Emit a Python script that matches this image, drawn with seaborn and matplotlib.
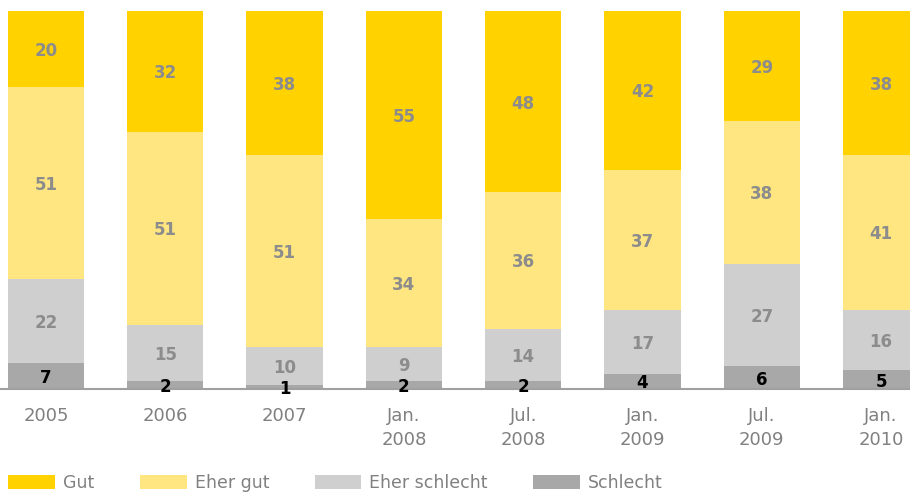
import numpy as np
import pandas as pd
import matplotlib
matplotlib.use("Agg")
import matplotlib.pyplot as plt
import seaborn as sns
from matplotlib.patches import Patch
from matplotlib.transforms import ScaledTranslation

categories = ["2005", "2006", "2007", "Jan.\n2008", "Jul.\n2008", "Jan.\n2009", "Jul.\n2009", "Jan.\n2010"]
schlecht = [7, 2, 1, 2, 2, 4, 6, 5]
eher_schlecht = [22, 15, 10, 9, 14, 17, 27, 16]
eher_gut = [51, 51, 51, 34, 36, 37, 38, 41]
gut = [20, 32, 38, 55, 48, 42, 29, 38]

series_names = ["Gut", "Eher gut", "Eher schlecht", "Schlecht"]
colors = {"Gut": "#FFD200", "Eher gut": "#FFE680", "Eher schlecht": "#CFCFCF", "Schlecht": "#A8A8A8"}

sns.set_theme(style="white")
plt.rcParams["font.family"] = ["DejaVu Sans"]

fig = plt.figure(figsize=(9.10, 4.95), dpi=100)
ax = fig.add_axes([0.0, 1 - 389 / 495, 1.0, (389 - 11) / 495])

# stacked from bottom: Schlecht, Eher schlecht, Eher gut, Gut
stack = [("Schlecht", schlecht), ("Eher schlecht", eher_schlecht), ("Eher gut", eher_gut), ("Gut", gut)]
cum = np.zeros(len(categories))
bottoms = {}
tops = {}
for name, vals in stack:
    bottoms[name] = cum.copy()
    cum = cum + np.array(vals, dtype=float)
    tops[name] = cum.copy()

# draw cumulative bars from the tallest (Gut) down to the smallest
for name in ["Gut", "Eher gut", "Eher schlecht", "Schlecht"]:
    df = pd.DataFrame({"cat": categories, "val": tops[name]})
    sns.barplot(data=df, x="cat", y="val", color=colors[name], width=0.64,
                saturation=1, ax=ax, edgecolor="none", linewidth=0, order=categories)

# value labels
shift = ax.transData + ScaledTranslation(0, -2 / 100, fig.dpi_scale_trans)
for name, vals in stack:
    for i, v in enumerate(vals):
        yc = (bottoms[name][i] + tops[name][i]) / 2
        col = "#000000" if name == "Schlecht" else "#8C8C8C"
        ax.text(i, yc, str(v), ha="center", va="center", fontsize=12,
                fontweight="bold", color=col, transform=shift)

ax.set_xlim(-46 / 119.3, (910 - 46) / 119.3)
ax.set_ylim(0, 100)
ax.set_xlabel("")
ax.set_ylabel("")
ax.set_yticks([])
for s in ["top", "right", "left"]:
    ax.spines[s].set_visible(False)
ax.spines["bottom"].set_color("#A0A0A0")
ax.spines["bottom"].set_linewidth(1.5)
ax.tick_params(axis="x", length=0, pad=13, labelsize=13, labelcolor="#808080")
for lab in ax.get_xticklabels():
    lab.set_linespacing(1.45)
ax.set_facecolor("white")

handles = [Patch(facecolor=colors[n], edgecolor="none", label=n) for n in series_names]
leg = fig.legend(handles=handles, loc="lower left", bbox_to_anchor=(0.0055, -0.001), ncol=4,
                 frameon=False, fontsize=12.5, handlelength=2.7, handleheight=0.85,
                 handletextpad=0.45, columnspacing=2.62, borderaxespad=0.0,
                 borderpad=0.2)
for t in leg.get_texts():
    t.set_color("#808080")

fig.savefig("out.png", dpi=100, facecolor="white")
